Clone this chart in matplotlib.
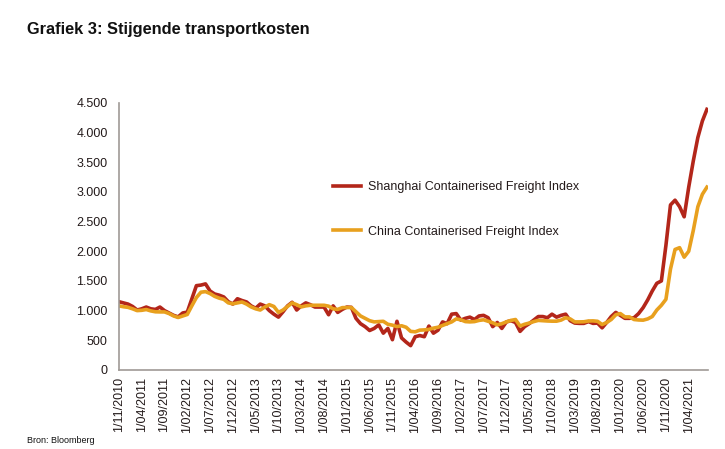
import matplotlib
matplotlib.use("Agg")
import matplotlib.pyplot as plt
from matplotlib.ticker import FuncFormatter
import pandas as pd

plt.rcParams['font.family'] = ['Liberation Sans', 'DejaVu Sans']

# monthly, Nov 2010 - Aug 2021
months = pd.date_range("2010-11-01", periods=130, freq="MS")

scfi = [1150, 1130, 1110, 1070, 1010, 1030, 1060, 1030, 1020, 1060,
        1000, 960, 920, 894, 960, 975, 1200, 1420, 1430, 1450,
        1330, 1280, 1260, 1230, 1150, 1110, 1200, 1170, 1146, 1080,
        1040, 1110, 1080, 1000, 940, 890, 980, 1080, 1140, 1010,
        1080, 1130, 1100, 1060, 1060, 1060, 930, 1080, 970, 1020,
        1060, 1055, 870, 780, 730, 665, 700, 760, 620, 700,
        510, 820, 540, 470, 410, 560, 580, 560, 740, 620,
        670, 810, 780, 940, 950, 840, 870, 890, 850, 910,
        920, 880, 730, 800, 700, 810, 830, 800, 650, 730,
        780, 840, 900, 900, 880, 940, 890, 920, 940, 830,
        790, 785, 785, 815, 785, 790, 710, 800, 900, 970,
        920, 870, 870, 880, 950, 1050, 1180, 1330, 1460, 1500,
        2100, 2780, 2860, 2750, 2580, 3080, 3520, 3915, 4195, 4390]

ccfi = [1080, 1065, 1055, 1030, 1000, 1005, 1018, 995, 980, 978,
        978, 950, 910, 884, 910, 935, 1080, 1220, 1310, 1320,
        1287, 1240, 1210, 1190, 1130, 1115, 1130, 1145, 1110, 1062,
        1030, 1010, 1060, 1100, 1070, 970, 1010, 1070, 1130, 1100,
        1062, 1080, 1090, 1090, 1090, 1090, 1075, 1030, 1020, 1050,
        1052, 1052, 980, 910, 870, 830, 810, 815, 820, 770,
        755, 730, 745, 720, 650, 643, 671, 675, 683, 705,
        720, 750, 778, 810, 860, 845, 815, 810, 815, 835,
        845, 820, 795, 760, 780, 810, 835, 850, 740, 770,
        790, 815, 835, 830, 825, 822, 822, 840, 880, 860,
        810, 810, 812, 825, 827, 820, 765, 800, 850, 930,
        950, 894, 894, 850, 842, 839, 860, 900, 1010, 1090,
        1190, 1700, 2030, 2060, 1900, 2000, 2350, 2750, 2960, 3080]

tick_idx = list(range(0, 130, 5))
tick_labels = [f"1/{months[i].month:02d}/{months[i].year}" for i in tick_idx]

fig = plt.figure(figsize=(7.25, 4.49), dpi=100)
ax = fig.add_axes([0.164, 0.176, 0.813, 0.595])

x = list(range(len(months)))
ax.plot(x, scfi, color="#B3261A", lw=2.6, label="Shanghai Containerised Freight Index",
        solid_joinstyle="round")
ax.plot(x, ccfi, color="#E8A01E", lw=2.6, label="China Containerised Freight Index",
        solid_joinstyle="round")

ax.set_ylim(0, 4500)
ax.set_xlim(0, 129.3)
ax.set_yticks(range(0, 4501, 500))
ax.yaxis.set_major_formatter(FuncFormatter(lambda v, p: f"{int(v):,}".replace(",", ".")))
ax.set_xticks(tick_idx)
ax.set_xticklabels(tick_labels, rotation=90)
ax.tick_params(axis="both", length=0, labelsize=9, colors="#231a1a")
ax.tick_params(axis="y", pad=8)
ax.tick_params(axis="x", pad=5)

for s in ["top", "right"]:
    ax.spines[s].set_visible(False)
for s in ["left", "bottom"]:
    ax.spines[s].set_color("#A09A96")
    ax.spines[s].set_linewidth(1.2)

leg = ax.legend(loc="upper left", bbox_to_anchor=(0.450, 0.610), bbox_transform=fig.transFigure,
                frameon=False, fontsize=9, handlelength=2.3, handletextpad=0.5,
                labelspacing=2.6, borderpad=0)
for t in leg.get_texts():
    t.set_color("#231a1a")

fig.text(0.037, 0.935, "Grafiek 3: Stijgende transportkosten", fontsize=11.8,
         fontweight="bold", color="#111111", va="center")
fig.text(0.037, 0.02, "Bron: Bloomberg", fontsize=6.5, color="#111111", va="center")

fig.savefig("out.png", dpi=100)
